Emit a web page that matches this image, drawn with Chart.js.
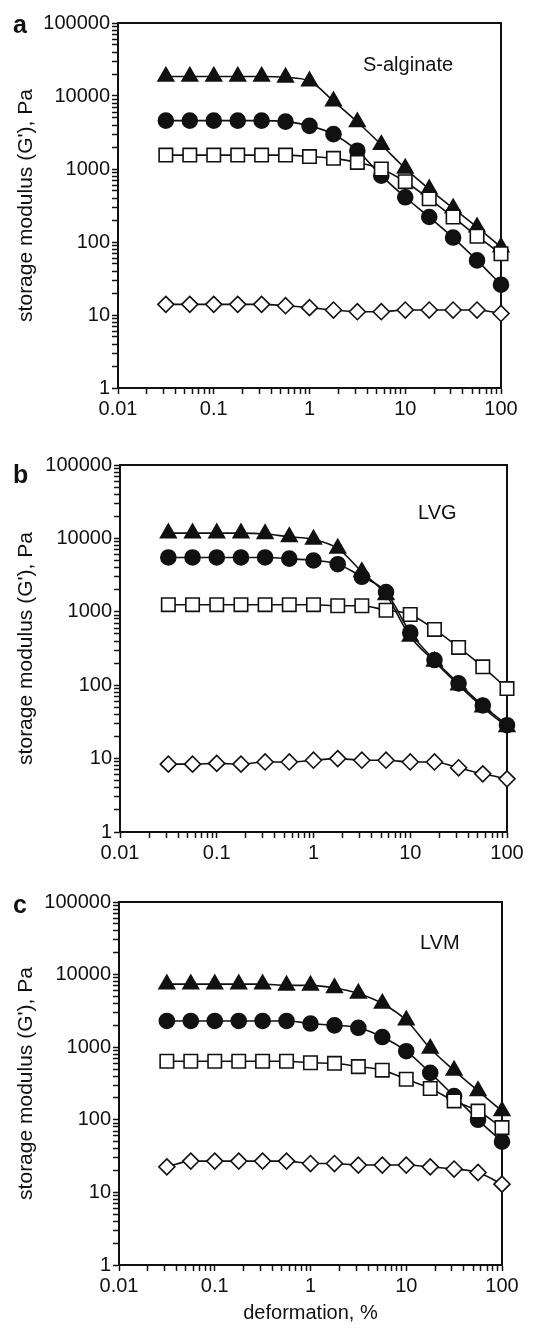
<!DOCTYPE html>
<html>
<head>
<meta charset="utf-8">
<script src="https://cdn.jsdelivr.net/npm/chart.js@4.4.1/dist/chart.umd.min.js"></script>
<style>
body { margin: 0; background: #fff; width: 558px; height: 1332px; position: relative; overflow: hidden; }
canvas { position: absolute; left: 0; }
</style>
</head>
<body>
<canvas id="pa" width="558" height="440" style="top:0px"></canvas>
<canvas id="pb" width="558" height="440" style="top:440px"></canvas>
<canvas id="pc" width="558" height="452" style="top:880px"></canvas>
<script>
// deformation, %
const strain = [0.0316, 0.0562, 0.1, 0.178, 0.316, 0.562, 1, 1.78, 3.16, 5.62, 10, 17.8, 31.6, 56.2, 100]

// a: S-alginate
const aTriangle = [18500, 18500, 18500, 18500, 18500, 18000, 16000, 8500, 4400, 2150, 1020, 530, 290, 160, 85]
const aCircle = [4600, 4600, 4600, 4600, 4600, 4450, 3900, 3000, 1780, 810, 410, 220, 115, 56, 26]
const aSquare = [1550, 1550, 1550, 1550, 1550, 1550, 1480, 1400, 1230, 1000, 670, 390, 220, 120, 69]
const aDiamond = [14, 14, 14, 14, 14, 13.4, 12.6, 11.7, 11.1, 11.1, 11.7, 11.7, 11.7, 11.7, 10.5]

// b: LVG
const bTriangle = [11800, 11800, 11800, 11800, 11500, 10500, 9700, 7300, 3500, 1700, 460, 210, 100, 50, 27]
const bCircle = [5500, 5500, 5500, 5500, 5500, 5300, 5000, 4450, 3000, 1860, 520, 220, 106, 53, 28.5]
const bSquare = [1250, 1250, 1250, 1250, 1250, 1250, 1250, 1210, 1210, 1050, 920, 575, 327, 178, 90]
const bDiamond = [8.4, 8.4, 8.6, 8.4, 9.0, 9.0, 9.5, 10, 9.5, 9.5, 9.0, 9.0, 7.5, 6.2, 5.3]

// c: LVM
const cTriangle = [7400, 7400, 7400, 7400, 7400, 7100, 7100, 6550, 5500, 4000, 2350, 960, 480, 250, 132]
const cCircle = [2300, 2300, 2300, 2300, 2300, 2300, 2120, 2000, 1850, 1380, 880, 443, 212, 100, 50]
const cSquare = [640, 640, 640, 640, 640, 640, 610, 600, 540, 483, 362, 270, 182, 132, 78]
const cDiamond = [22.5, 27, 27, 27, 27, 27, 25, 25, 23.8, 23.8, 23.8, 22.5, 21, 18.8, 13]

const xTickLabels = ['0.01', '0.1', '1', '10', '100']
const yTickLabels = ['1', '10', '100', '1000', '10000', '100000']

const ink = '#111'
const font = '"Liberation Sans", Arial, sans-serif'

// tick marks at 1..9 of every decade
function decadeTicks(labels) {
    const out = []
    for (let i = 0; i < labels.length; i++) {
        const base = Number(labels[i])
        out.push(base)
        if (i < labels.length - 1) {
            for (let m = 2; m <= 9; m++) out.push(+(base * m).toPrecision(3))
        }
    }
    return out
}

function labelFor(labels) {
    return function (value) {
        const hit = labels.find(l => Math.abs(Math.log10(Number(l)) - Math.log10(value)) < 1e-6)
        return hit || ''
    }
}

const framePlugin = {
    id: 'frame',
    beforeDatasetsDraw(chart, args, opts) {
        const { ctx, chartArea: a } = chart
        ctx.save()
        ctx.strokeStyle = ink
        ctx.lineWidth = 2
        ctx.strokeRect(a.left, a.top, a.right - a.left, a.bottom - a.top)
        ctx.restore()
    },
    afterDraw(chart, args, opts) {
        if (!opts.letter) return
        const { ctx, chartArea: a } = chart
        ctx.save()
        ctx.fillStyle = ink
        ctx.font = 'bold 25px ' + font
        ctx.textBaseline = 'alphabetic'
        ctx.fillText(opts.letter, 13, opts.letterY)
        ctx.font = '20px ' + font
        ctx.textBaseline = 'middle'
        ctx.fillText(opts.name, a.left + opts.nameDx, a.top + opts.nameDy)
        ctx.restore()
    }
}
Chart.register(framePlugin)

function series(values, style, radius, fill) {
    return {
        data: strain.map((x, i) => ({ x: x, y: values[i] })),
        borderColor: ink,
        borderWidth: 1.6,
        pointStyle: style,
        pointRadius: radius,
        pointHoverRadius: radius,
        pointBackgroundColor: fill,
        pointBorderColor: ink,
        pointBorderWidth: 1.6,
        cubicInterpolationMode: 'monotone',
        clip: false
    }
}

function makePanel(id, tri, circ, sq, dia, p) {
    new Chart(document.getElementById(id), {
        type: 'line',
        data: {
            datasets: [
                series(dia, 'rectRot', 8, '#fff'),
                series(sq, 'rect', 9.5, '#fff'),
                series(circ, 'circle', 7.5, ink),
                series(tri, 'triangle', 9, ink)
            ]
        },
        options: {
            responsive: false,
            animation: false,
            events: [],
            layout: { padding: { top: p.top, right: p.right, left: 0, bottom: 0 } },
            plugins: {
                legend: { display: false },
                tooltip: { enabled: false },
                frame: { letter: p.letter, letterY: p.letterY, name: p.name, nameDx: p.nameDx, nameDy: p.nameDy }
            },
            scales: {
                x: {
                    type: 'logarithmic',
                    min: 0.01,
                    max: 100,
                    afterBuildTicks: s => { s.ticks = decadeTicks(xTickLabels).map(v => ({ value: v })) },
                    afterFit: s => { s.height = p.xHeight },
                    ticks: { autoSkip: false, maxRotation: 0, padding: 3, color: ink, font: { family: font, size: 20 }, callback: labelFor(xTickLabels) },
                    grid: { drawOnChartArea: false, tickLength: 6, tickColor: ink, tickWidth: 1.5 },
                    border: { color: ink, width: 2 },
                    title: { display: !!p.xTitle, text: p.xTitle, color: ink, font: { family: font, size: 20 }, padding: { bottom: 7 } }
                },
                y: {
                    type: 'logarithmic',
                    min: 1,
                    max: 100000,
                    afterBuildTicks: s => { s.ticks = decadeTicks(yTickLabels).map(v => ({ value: v })) },
                    afterFit: s => { s.width = p.yWidth },
                    ticks: { autoSkip: false, padding: 2, color: ink, font: { family: font, size: 20 }, callback: labelFor(yTickLabels) },
                    grid: { drawOnChartArea: false, tickLength: 6, tickColor: ink, tickWidth: 1.5 },
                    border: { color: ink, width: 2 },
                    title: { display: true, text: "storage modulus (G'), Pa", color: ink, font: { family: font, size: 21 }, padding: { top: 14 } }
                }
            }
        }
    })
}

makePanel('pa', aTriangle, aCircle, aSquare, aDiamond,
    { top: 23, right: 57, yWidth: 118, xHeight: 52, letter: 'a', letterY: 33, name: 'S-alginate', nameDx: 245, nameDy: 42 })
makePanel('pb', bTriangle, bCircle, bSquare, bDiamond,
    { top: 25, right: 51, yWidth: 120, xHeight: 48, letter: 'b', letterY: 43, name: 'LVG', nameDx: 298, nameDy: 48 })
makePanel('pc', cTriangle, cCircle, cSquare, cDiamond,
    { top: 22, right: 56, yWidth: 119, xHeight: 67, letter: 'c', letterY: 33, name: 'LVM', nameDx: 301, nameDy: 41, xTitle: 'deformation, %' })
</script>
</body>
</html>
